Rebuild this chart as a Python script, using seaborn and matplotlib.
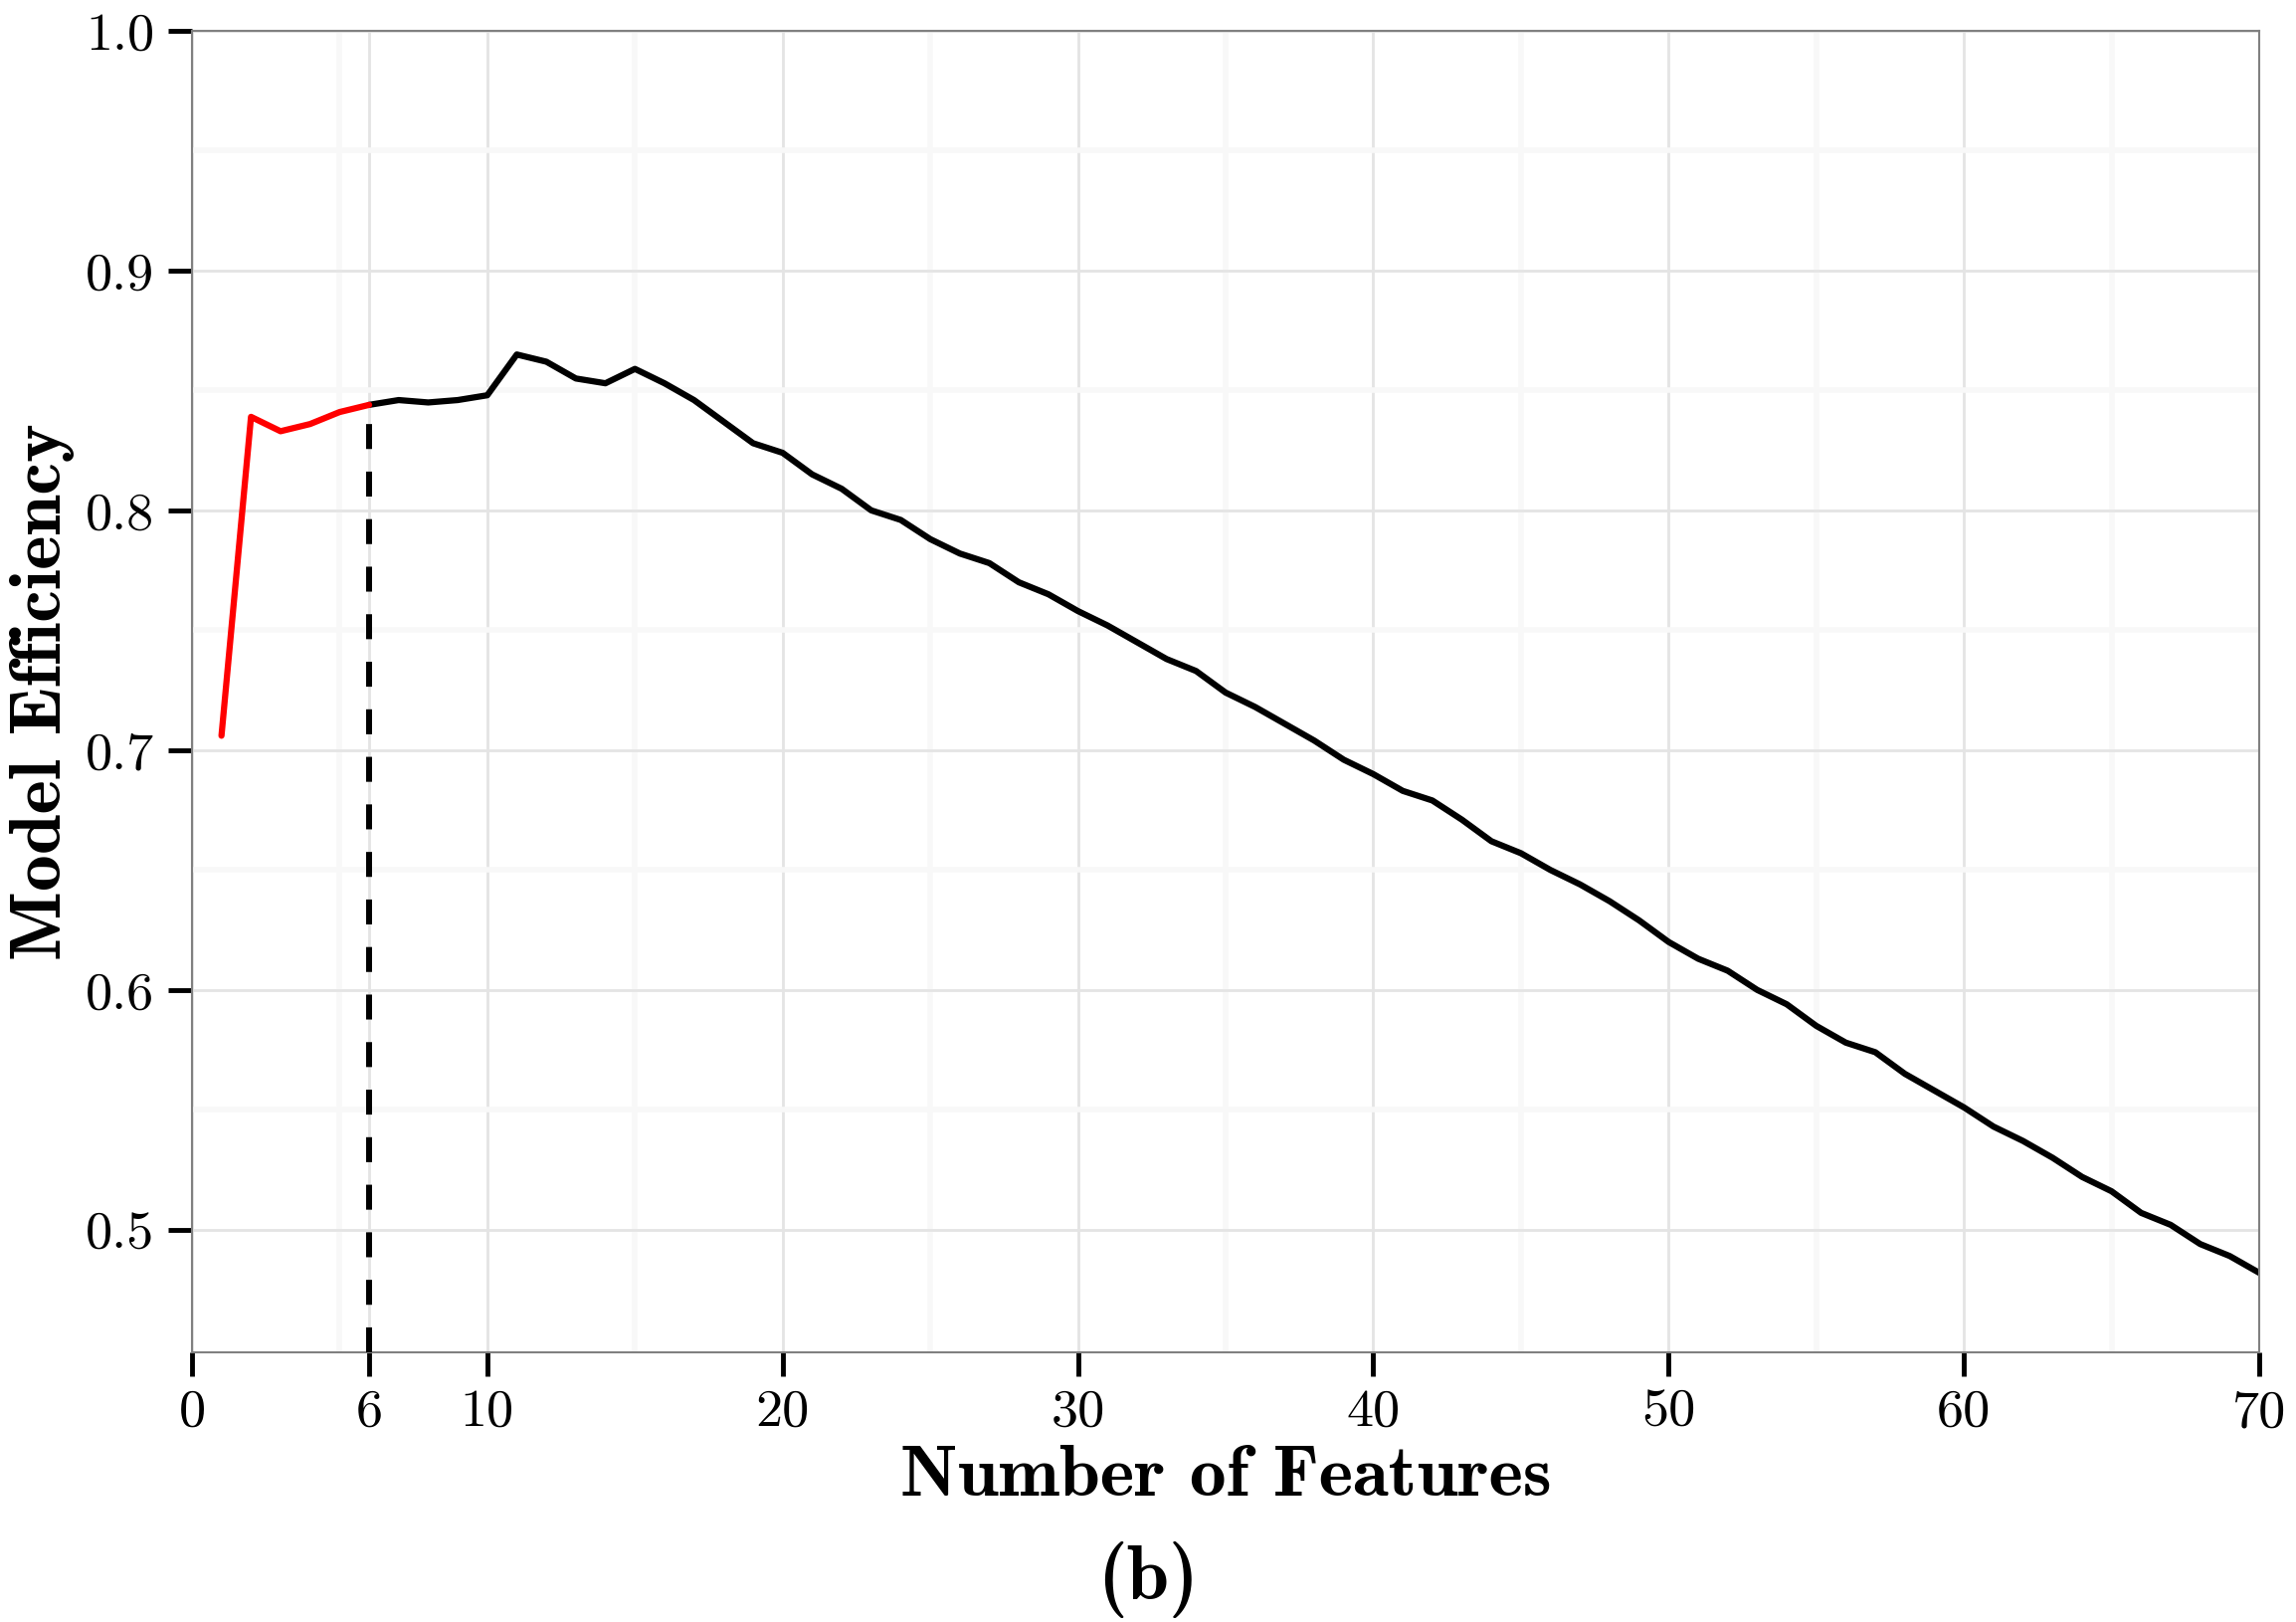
import pandas as pd
import seaborn as sns
import matplotlib.pyplot as plt

# model efficiency vs number of features, first 6 selected
features = list(range(1, 71))
efficiency = [0.706, 0.839, 0.833, 0.836, 0.841, 0.844, 0.846, 0.845, 0.846, 0.848,
              0.865, 0.862, 0.855, 0.853, 0.859, 0.853, 0.846, 0.837, 0.828, 0.824,
              0.815, 0.809, 0.800, 0.796, 0.788, 0.782, 0.778, 0.770, 0.765, 0.758,
              0.752, 0.745, 0.738, 0.733, 0.724, 0.718, 0.711, 0.704, 0.696, 0.690,
              0.683, 0.679, 0.671, 0.662, 0.657, 0.650, 0.644, 0.637, 0.629, 0.620,
              0.613, 0.608, 0.600, 0.594, 0.585, 0.578, 0.574, 0.565, 0.558, 0.551,
              0.543, 0.537, 0.530, 0.522, 0.516, 0.507, 0.502, 0.494, 0.489, 0.482]
selected = 6
x_ticks = [0, 6, 10, 20, 30, 40, 50, 60, 70]
x_minor = [5, 15, 25, 35, 45, 55, 65]
y_ticks = [0.5, 0.6, 0.7, 0.8, 0.9, 1.0]
y_minor = [0.55, 0.65, 0.75, 0.85, 0.95]
y_low, y_high = 0.449, 1.0

df = pd.DataFrame({"Features": features, "Efficiency": efficiency})
chosen = df[df["Features"] <= selected]
rest = df[df["Features"] >= selected]

sns.set_style("white")
plt.rcParams["font.family"] = "serif"
plt.rcParams["font.serif"] = ["cmr10"]
plt.rcParams["mathtext.fontset"] = "cm"
plt.rcParams["axes.formatter.use_mathtext"] = True
plt.rcParams["text.color"] = "black"
plt.rcParams["axes.labelcolor"] = "black"
plt.rcParams["xtick.color"] = "black"
plt.rcParams["ytick.color"] = "black"

fig, ax = plt.subplots(figsize=(23.08, 16.30), dpi=100)
fig.subplots_adjust(left=0.0836, right=0.984, top=0.981, bottom=0.1665)

ax.set_xticks(x_minor, minor=True)
ax.set_yticks(y_minor, minor=True)
ax.grid(which="minor", color="#f8f8f8", lw=4)
ax.grid(which="major", color="#e4e4e4", lw=2)
ax.set_axisbelow(True)

sns.lineplot(data=rest, x="Features", y="Efficiency", color="black", lw=4.5, ax=ax)
sns.lineplot(data=chosen, x="Features", y="Efficiency", color="red", lw=4.5, ax=ax)
ax.vlines(selected, y_low, efficiency[selected - 1], colors="black", lw=4.3,
          linestyles=(0, (4.2, 3.8)), zorder=3)

ax.set_xlim(0, 70)
ax.set_ylim(y_low, y_high)
ax.set_xticks(x_ticks)
ax.set_xticklabels([str(v) for v in x_ticks])
ax.set_yticks(y_ticks)
ax.set_yticklabels([f"{v:.1f}" for v in y_ticks])
ax.tick_params(which="major", direction="out", length=17, width=3.5, color="black",
               labelsize=39, pad=10, bottom=True, left=True)
ax.tick_params(which="minor", length=0)

for sp in ax.spines.values():
    sp.set_color("#808080")
    sp.set_linewidth(1.5)

ax.set_xlabel("Number of Features", fontfamily="cmb10", fontsize=53, va="baseline")
ax.xaxis.set_label_coords(0.5, -0.1085)
ax.set_ylabel("Model Efficiency", fontfamily="cmb10", fontsize=53, va="baseline")
ax.yaxis.set_label_coords(-0.0635, 0.5)
fig.text(0.5, 0.014, "(b)", fontfamily="cmb10", fontsize=55, ha="center", va="baseline")

plt.savefig("out.png", dpi=100)
